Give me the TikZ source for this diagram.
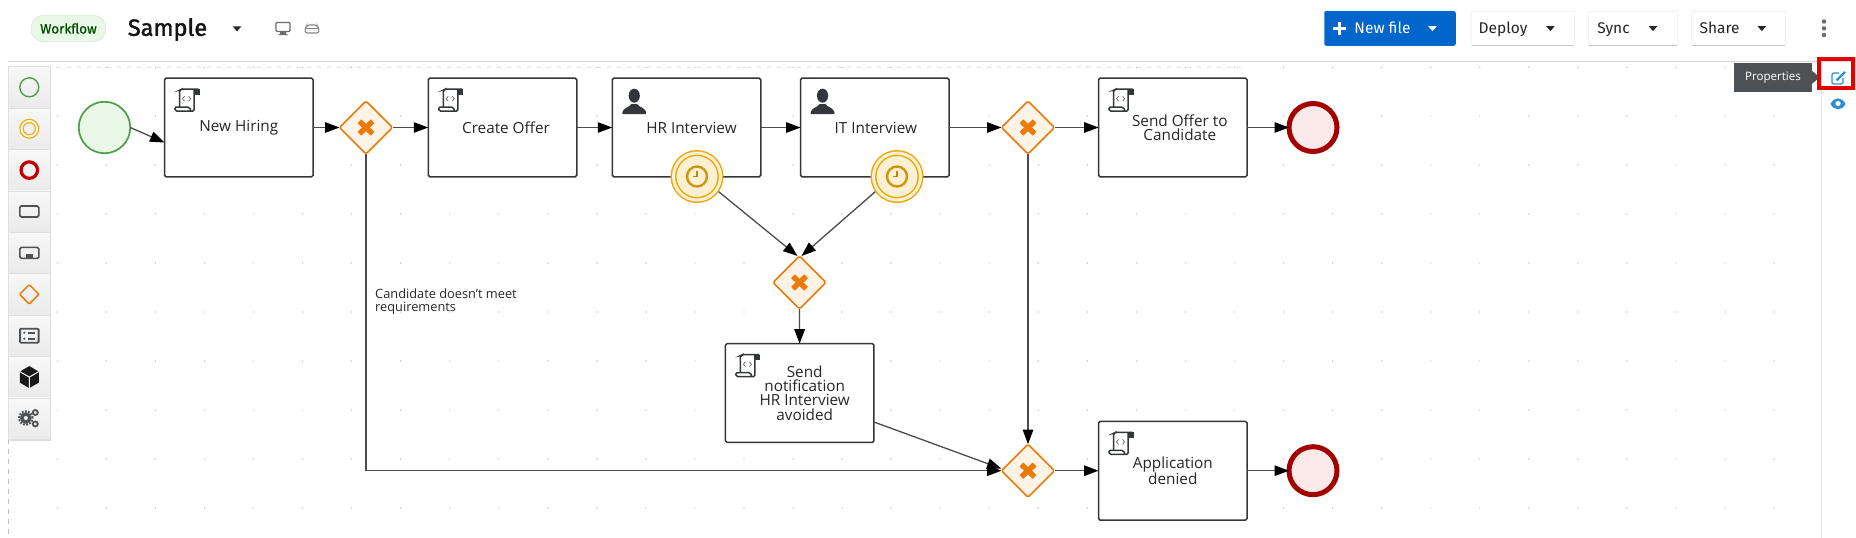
\documentclass[tikz,border=0pt]{standalone}
\usepackage{fontspec}
\setmainfont{Open Sans}
\newfontfamily\headfont{Fira Sans}
\newfontfamily\headsemi{Fira Sans}[FakeBold=0.7]
\newfontfamily\titlefont{Fira Sans}[FakeBold=1.6]
\usetikzlibrary{arrows.meta}
\usetikzlibrary{shapes.geometric}
\usetikzlibrary{shadows}
\definecolor{flowgray}{HTML}{4C4C4C}
\definecolor{boxedge}{HTML}{33363A}
\definecolor{gateorange}{HTML}{EC7A08}
\definecolor{gatefill}{HTML}{FDF3E7}
\definecolor{timergold}{HTML}{EDA90F}
\definecolor{timerfill}{HTML}{FBF0D2}
\definecolor{startgreen}{HTML}{4F9F4A}
\definecolor{startfill}{HTML}{E9F7E6}
\definecolor{endred}{HTML}{A30000}
\definecolor{endfill}{HTML}{FBE8E8}
\definecolor{iconslate}{HTML}{4F5255}
\definecolor{linkblue}{HTML}{0066CC}
\definecolor{iconblue}{HTML}{2B8FD6}
\tikzset{
  Task/.style={rectangle, draw=boxedge, fill=white, line width=1.5pt, rounded corners=1.5pt, outer sep=0pt, minimum width=148.5pt, minimum height=98.6pt, align=center, inner sep=0pt, text=black!85, node font=\fontsize{15.3}{14.3}\selectfont},
  Gate/.style={diamond, draw=gateorange, fill=gatefill, line width=1.5pt, rounded corners=1.5pt, outer sep=0pt, inner sep=0pt, minimum width=53pt, minimum height=53pt,
    path picture={\draw[gateorange, line width=5.4pt] ([shift={(-6.6pt,-6.2pt)}]path picture bounding box.center) -- ([shift={(6.6pt,6.2pt)}]path picture bounding box.center);
      \draw[gateorange, line width=5.4pt] ([shift={(-6.6pt,6.2pt)}]path picture bounding box.center) -- ([shift={(6.6pt,-6.2pt)}]path picture bounding box.center);}},
  Start/.style={circle, draw=startgreen, fill=startfill, line width=1.7pt, outer sep=0pt, inner sep=0pt, minimum size=51.5pt},
  End/.style={circle, draw=endred, fill=endfill, line width=5pt, outer sep=0pt, inner sep=0pt, minimum size=48pt},
  Timer/.style={circle, draw=timergold, fill=timerfill, line width=1.5pt, double=timerfill, double distance=3pt, inner sep=0pt, outer sep=3pt, minimum size=47pt,
    path picture={\draw[timergold!88!black, line width=2.4pt] (path picture bounding box.center) circle (10pt);
      \draw[timergold!80!black, line width=1.4pt] ([yshift=5.5pt]path picture bounding box.center) -- (path picture bounding box.center) -- ([xshift=-4.5pt]path picture bounding box.center);}},
  Flow/.style={-{Triangle[length=14.5pt,width=10.5pt,fill=black,color=black]}, draw=flowgray, line width=1.3pt},
  MenuBtn/.style={rectangle, fill=white, minimum height=34pt, inner sep=0pt, text height=11pt, text depth=2pt, text=black!85, node font=\headfont\fontsize{15.5}{16}\selectfont},
  ToolCell/.style={rectangle, top color=white!97!black, bottom color=white!92!black, draw=black!12, line width=.6pt, minimum width=41.3pt, minimum height=41.3pt, inner sep=0pt},
  ToolIcon/.style={draw=iconslate, line width=1.6pt, inner sep=0pt},
  pics/scripticon/.style={code={
    \draw[boxedge, line width=1.5pt, rounded corners=1.5pt] (5,18) -- (5,1) -- (7,0) -- (24,0);
    \draw[boxedge, line width=1.5pt, rounded corners=1.5pt] (19.5,0) -- (19.5,22) -- (1,22) -- (0,18) -- (15,18) -- (16,21);
    \fill[boxedge] (20,0) rectangle (25,5.5);
    \draw[black!60, line width=.7pt] (10,7) -- (8,9.5) -- (10,12) (14,7) -- (16,9.5) -- (14,12);
  }},
  pics/usericon/.style={code={
    \fill[boxedge] (12,6.5) ellipse (5.6 and 7);
    \fill[boxedge] (0,25) .. controls (0,18) and (7,18.5) .. (9,15) -- (15,15) .. controls (17,18.5) and (24,18) .. (24,25) -- cycle;
  }},
  pics/caret/.style={code={\fill[#1] (-4.3,-2.3) -- (4.3,-2.3) -- (0,2.7) -- cycle;}},
}
\begin{document}
\begin{tikzpicture}[x=1pt, y=-1pt, every node/.append style={inner sep=0pt}]
        \useasboundingbox (0,0) rectangle (1856,538);
        \fill[white] (0,0) rectangle (1856,538);

        % canvas dots and edges
        \foreach \k in {0,...,35}{
            \fill[black!30] ({57.3+49.05*\k},67.3) circle (.7pt);
            \foreach \r in {0,...,8}
                \fill[black!30] ({57.3+49.05*\k},{116+49*\r}) circle (.7pt);
        }
        \draw[black!12, dash pattern=on 4pt off 6pt, line width=.8pt] (57,67.3) -- (1245,67.3);
        \draw[black!25, dash pattern=on 5pt off 5pt, line width=.7pt] (8.7,439) -- (8.7,538);
        \draw[black!15, line width=1.2pt] (8,61.7) -- (1856,61.7);
        \draw[black!10, line width=1pt] (1821.5,61.7) -- (1821.5,538);

        % header
        \node[rectangle, rounded corners=13pt, draw=green!50!black!20, fill=startfill, minimum width=75pt, minimum height=26.7pt, text=green!30!black, font=\headsemi\fontsize{13.5}{14}\selectfont] (badge) at (68.5,28.5){Workflow};
        \node[font=\titlefont\fontsize{23.5}{24}\selectfont, text=black!92] (title) at (167.5,29.5){Sample};
        \pic at (237,28.7) {caret={black!85}};
        \draw[iconslate!85, line width=1.1pt, rounded corners=1pt] (276,22.5) rectangle (290,31.5);
        \fill[iconslate!85] (280,31.5) rectangle (286,34) (278.5,34) rectangle (287.5,35);
        \draw[iconslate!70, line width=1.1pt, rounded corners=2pt] (305.2,28.5) -- (307,25) -- (317,25) -- (318.8,28.5) -- (318.8,33) -- (305.2,33) -- cycle;
        \draw[iconslate!70, line width=1pt] (305.2,28.5) -- (318.8,28.5);

        \node[rectangle, rounded corners=2pt, fill=linkblue, minimum width=131.5pt, minimum height=34.7pt, text height=10.5pt, text depth=1pt, text=white, node font=\headfont\fontsize{15.5}{16}\selectfont] (newfile) at (1390,28.4){New file\hspace*{15pt}};
        \draw[white, line width=2.6pt] (1333,28.4) -- (1346,28.4) (1339.5,22) -- (1339.5,35);
        \pic at (1432.5,28.4) {caret={white}};
        \node[MenuBtn, minimum width=102pt] (deploy) at (1523,28.5){Deploy\hspace*{40pt}};
        \node[MenuBtn, minimum width=88pt] (sync) at (1633,28.5){Sync\hspace*{39pt}};
        \node[MenuBtn, minimum width=93pt] (share) at (1738.5,28.5){Share\hspace*{38pt}};
        \foreach \b in {deploy,sync,share}{
            \draw[black!22, line width=1pt] (\b.south west) -- (\b.south east);
            \draw[black!5, line width=.8pt] (\b.south west) -- (\b.north west) -- (\b.north east) -- (\b.south east);
        }
        \pic at (1550.4,28.4) {caret={black!85}};
        \pic at (1653,28.4) {caret={black!85}};
        \pic at (1761.8,28.4) {caret={black!85}};
        \foreach \d in {21.5,28.4,35}
            \fill[iconslate!85] (1824,\d) circle (2.2pt);

        % properties tooltip and side icons
        \node[rectangle, fill=iconslate, minimum width=78pt, minimum height=29.6pt, text=white, font=\fontsize{11.6}{12}\selectfont] (tooltip) at (1773,77.5){Properties};
        \fill[iconslate] (tooltip.north east) ++(0,8.5) -- ++(7.5,6.3) -- ++(-7.5,6.3) -- cycle;
        \draw[iconblue, line width=1.3pt, rounded corners=1.5pt] (1843,78) -- (1843,84) -- (1832,84) -- (1832,73) -- (1839,73);
        \draw[iconblue, line width=2.3pt] (1836.5,80.5) -- (1845,72);
        \fill[iconblue] (1830.5,104) .. controls (1834,96.5) and (1842,96.5) .. (1845.5,104) .. controls (1842,111) and (1834,111) .. (1830.5,104) -- cycle;
        \fill[white] (1838,103.5) circle (2.6pt);
        \node[rectangle, draw=red!90!black, line width=3.8pt, minimum width=34pt, minimum height=29pt] (propbox) at (1836,73.5){};

        % palette
        \node[rectangle, fill=white, minimum width=41.3pt, minimum height=372.6pt, drop shadow={shadow xshift=1.2pt, shadow yshift=-1.2pt, opacity=.28}] (palette) at (29.3,253){};
        \foreach \i in {1,...,9}
            \node[ToolCell] (tool\i) at (29.3,{87.3+41.4*(\i-1)}){};
        \node[circle, draw=startgreen, line width=1.4pt, minimum size=19pt] (toolstart) at (tool1){};
        \node[circle, draw=timergold, line width=1.3pt, double=white, double distance=1.8pt, minimum size=15.5pt] (toolcatch) at (tool2){};
        \node[circle, draw=red!75!black, line width=3.2pt, minimum size=16.5pt] (toolend) at (tool3){};
        \node[ToolIcon, rectangle, rounded corners=1.5pt, minimum width=19pt, minimum height=11pt] (tooltask) at (tool4){};
        \node[ToolIcon, rectangle, rounded corners=1.5pt, minimum width=19pt, minimum height=11pt] (toolsub) at (tool5){};
        \fill[iconslate] ([shift={(-3.5pt,-5pt)}]toolsub.center) rectangle ([shift={(3.5pt,-1.5pt)}]toolsub.center);
        \node[diamond, draw=gateorange, line width=1.5pt, rounded corners=1pt, minimum width=20pt, minimum height=20pt] (toolgate) at (tool6){};
        \node[ToolIcon, rectangle, rounded corners=1pt, line width=1.9pt, minimum width=18.5pt, minimum height=14pt] (toollist) at (tool7){};
        \foreach \s in {-3,3}{
            \fill[iconslate] ([shift={(-5pt,\s pt)}]toollist.center) circle (1.2pt);
            \draw[iconslate, line width=1.6pt] ([shift={(-1.5pt,\s pt)}]toollist.center) -- ([shift={(6pt,\s pt)}]toollist.center);
        }
        \node[regular polygon, regular polygon sides=6, shape border rotate=30, fill=black!90, minimum size=22pt] (toolcube) at (tool8){};
        \draw[white, line width=1pt] (toolcube.center) -- ++(-9.5pt,5.5pt) (toolcube.center) -- ++(9.5pt,5.5pt) (toolcube.center) -- ++(0,-11pt);
        \node[circle, draw=iconslate, line width=3.4pt, minimum size=8pt] (toolgear) at ([shift={(-3.5pt,.5pt)}]tool9){};
        \node[circle, draw=iconslate, line width=2pt, dash pattern=on 1.8pt off 1.4pt, minimum size=13.5pt] (toolteeth) at (toolgear){};
        \node[circle, draw=iconslate, line width=1.8pt, minimum size=5pt] (toolgeara) at ([shift={(6pt,-5.5pt)}]tool9){};
        \node[circle, draw=iconslate, line width=1.8pt, minimum size=5pt] (toolgearb) at ([shift={(6pt,6pt)}]tool9){};

        % process
        \node[Start] (start) at (104.5,127.5){};
        \node[Task] (hire) at (238.8,127.5){New Hiring};
        \node[Gate] (fork) at (366,127.5){};
        \node[Task] (offer) at (502.5,127.5){\hspace*{7pt}Create Offer};
        \node[Task] (hr) at (686.5,127.5){\hspace*{10pt}HR Interview};
        \node[Task] (it) at (874.8,127.5){\hspace*{2pt}IT Interview};
        \node[Gate] (merge) at (1028,127.5){};
        \node[Task] (send) at (1172.8,127.5){\hspace*{14pt}Send Offer to\\\hspace*{14pt}Candidate};
        \node[End] (endok) at (1313,127.5){};
        \node[Timer] (hrtimer) at (697,176.5){};
        \node[Timer] (ittimer) at (897,176.5){};
        \node[Gate] (skip) at (799.5,282.5){};
        \node[Task] (note) at (799.7,393){\hspace*{10pt}Send\\\hspace*{10pt}notification\\\hspace*{10pt}HR Interview\\\hspace*{10pt}avoided};
        \node[Gate] (deny) at (1028,470.7){};
        \node[Task] (denied) at (1172.8,470.7){Application\\denied};
        \node[End] (endno) at (1313,470.7){};
        \node[align=left, anchor=north west, text=black!85, font=\fontsize{12.8}{12.7}\selectfont] (reason) at (375,288.5){Candidate doesn't meet\\requirements};

        \foreach \t in {hire,offer,send,note,denied}
            \pic at ([shift={(10pt,-11pt)}]\t.north west) {scripticon};
        \foreach \t in {hr,it}
            \pic at ([shift={(10pt,-11pt)}]\t.north west) {usericon};

        \draw[Flow] (start.east) -- ([yshift=-15pt]hire.west);
        \draw[Flow] (hire) -- (fork);
        \draw[Flow] (fork) -- (offer);
        \draw[Flow] (offer) -- (hr);
        \draw[Flow] (hr) -- (it);
        \draw[Flow] (it) -- (merge);
        \draw[Flow] (merge) -- (send);
        \draw[Flow] (send) -- (endok);
        \draw[Flow] (hrtimer.-35) -- ([xshift=-2pt]skip.north);
        \draw[Flow] (ittimer.215) -- ([xshift=2pt]skip.north);
        \draw[Flow] (skip) -- (note);
        \draw[Flow] ([yshift=-29pt]note.east) -- ([yshift=2pt]deny.west);
        \draw[Flow] (fork.south) |- (deny.west);
        \draw[Flow] (merge) -- (deny);
        \draw[Flow] (deny) -- (denied);
        \draw[Flow] (denied) -- (endno);

    \end{tikzpicture}
\end{document}
